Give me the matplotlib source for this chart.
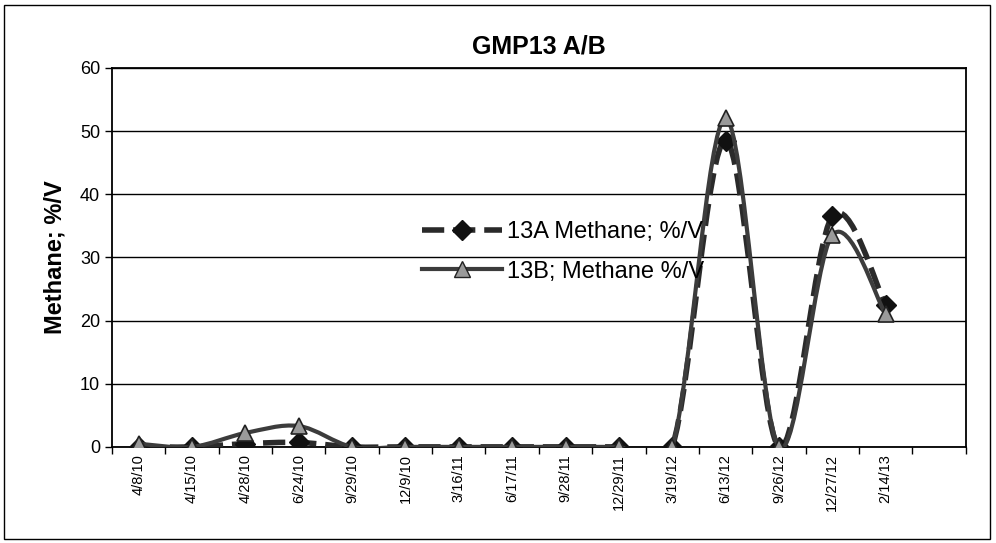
import matplotlib
matplotlib.use('Agg')
import matplotlib.pyplot as plt
from matplotlib.path import Path
from matplotlib.patches import PathPatch, Rectangle
from matplotlib.lines import Line2D

plt.rcParams['font.family'] = ['Liberation Sans', 'DejaVu Sans']

# data
dates = ['4/8/10', '4/15/10', '4/28/10', '6/24/10', '9/29/10', '12/9/10',
         '3/16/11', '6/17/11', '9/28/11', '12/29/11', '3/19/12', '6/13/12',
         '9/26/12', '12/27/12', '2/14/13']
methane_13a = [0, 0, 0.5, 0.7, 0, 0, 0, 0, 0, 0, 0, 48.5, 0, 36.5, 22.5]
methane_13b = [0.5, 0, 2.2, 3.3, 0, 0, 0, 0, 0, 0, 0, 52, 0, 33.5, 21]
n_slots = 16  # one empty category at the right end


def smooth_path(xs, ys):
    # excel style smoothed line: bezier segments through every point
    pts = list(zip(xs, ys))
    verts = [pts[0]]
    codes = [Path.MOVETO]
    for i in range(len(pts) - 1):
        p0 = pts[i - 1] if i > 0 else pts[i]
        p1 = pts[i]
        p2 = pts[i + 1]
        p3 = pts[i + 2] if i + 2 < len(pts) else pts[i + 1]
        c1 = (p1[0] + (p2[0] - p0[0]) / 6, p1[1] + (p2[1] - p0[1]) / 6)
        c2 = (p2[0] - (p3[0] - p1[0]) / 6, p2[1] - (p3[1] - p1[1]) / 6)
        verts += [c1, c2, p2]
        codes += [Path.CURVE4] * 3
    return Path(verts, codes)


fig = plt.figure(figsize=(9.96, 5.43), dpi=100)
ax = fig.add_axes([0.1125, 0.177, 0.857, 0.698])

x = list(range(len(dates)))

# 13A
ax.add_patch(PathPatch(smooth_path(x, methane_13a), fill=False, edgecolor='#2a2a2a',
                       lw=4, linestyle=(0, (4, 1.6)), zorder=3))
ax.plot(x, methane_13a, linestyle='none', marker='D', markersize=10,
        color='#111111', zorder=4)

# 13B
ax.add_patch(PathPatch(smooth_path(x, methane_13b), fill=False, edgecolor='#3c3c3c',
                       lw=3, zorder=5))
ax.plot(x, methane_13b, linestyle='none', marker='^', markersize=11,
        markerfacecolor='#9a9a9a', markeredgecolor='#222222', markeredgewidth=1.2,
        zorder=6)

ax.set_xlim(-0.5, n_slots - 0.5)
ax.set_ylim(0, 60)
ax.set_yticks(range(0, 61, 10))
ax.tick_params(axis='y', labelsize=13, length=5, width=1, direction='out')
ax.yaxis.grid(True, color='black', lw=1)
ax.set_axisbelow(True)

# category labels under each point, ticks between categories
ax.set_xticks([i - 0.5 for i in range(n_slots + 1)])
ax.set_xticklabels([])
ax.tick_params(axis='x', length=5, width=1, direction='out')
for i, d in enumerate(dates):
    ax.text(i, -1.2, d, rotation=90, ha='center', va='top', fontsize=10.5)

for s in ax.spines.values():
    s.set_color('black')
    s.set_linewidth(1.3)

ax.set_ylabel('Methane; %/V', fontsize=17, fontweight='bold', labelpad=10)
ax.set_title('GMP13 A/B', fontsize=18, fontweight='bold', pad=10)

handles = [
    Line2D([], [], color='#2a2a2a', lw=4, linestyle=(0, (4, 1.6)), marker='D',
           markersize=10, markerfacecolor='#111111', markeredgecolor='#111111'),
    Line2D([], [], color='#3c3c3c', lw=3, marker='^', markersize=11,
           markerfacecolor='#9a9a9a', markeredgecolor='#222222'),
]
leg = ax.legend(handles, ['13A Methane; %/V', '13B; Methane %/V'],
                loc='center left', bbox_to_anchor=(0.338, 0.515), frameon=False,
                fontsize=17, handlelength=3.4, labelspacing=0.75, handletextpad=0.2)
leg.set_zorder(10)

# outer border of the chart area
fig.patches.append(Rectangle((0.004, 0.008), 0.99, 0.982, transform=fig.transFigure,
                             fill=False, edgecolor='black', lw=1))

fig.savefig('out.png', dpi=100)
